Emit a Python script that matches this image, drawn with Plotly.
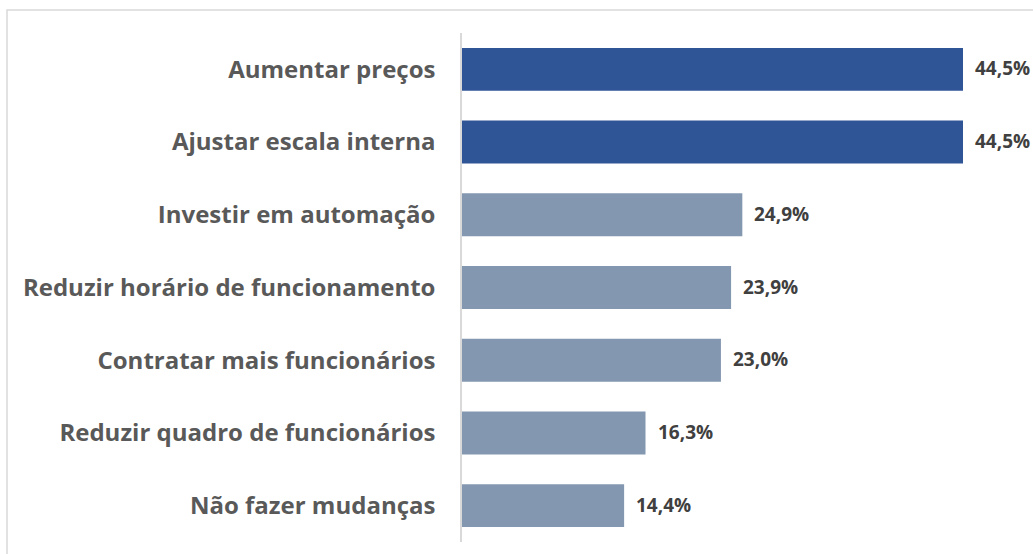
import plotly.graph_objects as go

categories = [
    "Aumentar preços",
    "Ajustar escala interna",
    "Investir em automação",
    "Reduzir horário de funcionamento",
    "Contratar mais funcionários",
    "Reduzir quadro de funcionários",
    "Não fazer mudanças",
]
values = [44.5, 44.5, 24.9, 23.9, 23.0, 16.3, 14.4]
bar_colors = ["#2F5597", "#2F5597", "#8497B0", "#8497B0", "#8497B0", "#8497B0", "#8497B0"]
value_labels = [f"{v:.1f}%".replace(".", ",") for v in values]

W, H = 1033, 554
left, right, top, bottom = 462, 20, 33, 12

fig = go.Figure()
fig.add_trace(go.Bar(
    x=values,
    y=categories,
    orientation="h",
    marker=dict(color=bar_colors, line=dict(width=0)),
    hoverinfo="skip",
))

# data labels just past the bar ends
for cat, v, lab in zip(categories, values, value_labels):
    fig.add_annotation(
        x=v, y=cat, text=f"<b>{lab}</b>", showarrow=False,
        xanchor="left", xshift=10, yshift=1,
        font=dict(family="Open Sans", size=19, color="#404040"),
    )

# light frame around the chart area
pw = W - left - right
ph = H - top - bottom
fig.add_shape(
    type="rect", xref="paper", yref="paper",
    x0=(7 - left) / pw, x1=1.2, y0=-0.2, y1=(H - bottom - 10) / ph,
    line=dict(color="#D9D9D9", width=1.5), fillcolor="rgba(0,0,0,0)",
)

fig.update_layout(
    width=W, height=H,
    margin=dict(l=left, r=right, t=top, b=bottom),
    paper_bgcolor="white", plot_bgcolor="white",
    bargap=0.41,
    showlegend=False,
    xaxis=dict(range=[0, pw / (501 / 44.5)], visible=False, fixedrange=True),
    yaxis=dict(
        autorange="reversed",
        showline=True, linecolor="#D9D9D9", linewidth=1.5,
        showgrid=False, ticks="", ticklabelstandoff=20, fixedrange=True,
        tickfont=dict(family="Open Sans", size=24, color="#595959", weight="bold"),
    ),
)

fig.write_html(
    "out.html",
    config={"displayModeBar": False},
    post_script="document.body.style.margin='0';",
)
